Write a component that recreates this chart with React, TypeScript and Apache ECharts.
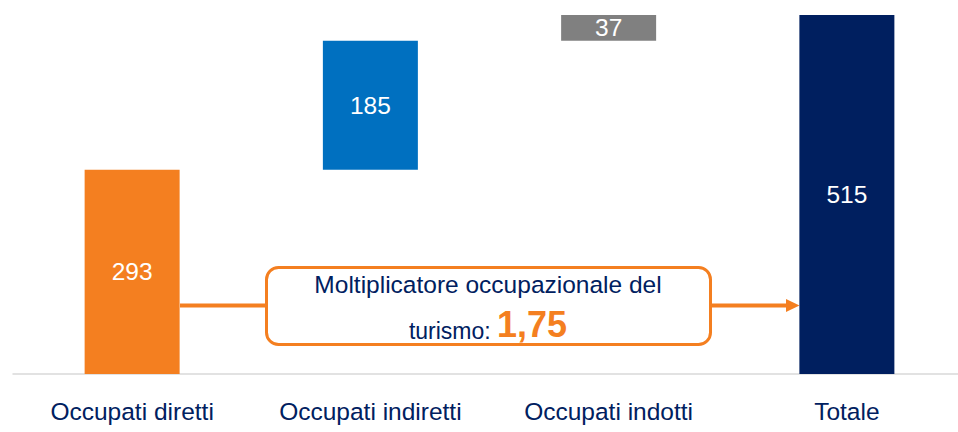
import React, { useEffect, useRef } from "react";
import * as echarts from "echarts";

const categories = ["Occupati diretti", "Occupati indiretti", "Occupati indotti", "Totale"];
const values = [293, 185, 37, 515];
const barColors = ["#F47F20", "#0070C0", "#808080", "#001F5F"];
const multiplierLabel = "Moltiplicatore occupazionale del";
const multiplierPrefix = "turismo: ";
const multiplierValue = "1,75";

const FONT = "'Liberation Sans', Arial, sans-serif";

export default function App() {
  const ref = useRef<HTMLDivElement>(null);
  useEffect(() => {
    if (!ref.current) return;
    const chart = echarts.init(ref.current, undefined, { renderer: "svg" });
    // waterfall offsets: each intermediate bar starts where the previous ends; total starts at 0
    const bases: number[] = [];
    let acc = 0;
    values.forEach((v, i) => {
      if (i === values.length - 1) bases.push(0);
      else {
        bases.push(acc);
        acc += v;
      }
    });
    const orange = "#F47F20";
    chart.setOption({
      animation: false,
      grid: { left: 13, top: 15, width: 953, height: 359, outerBoundsMode: "none", containLabel: false },
      xAxis: {
        type: "category",
        data: categories,
        axisLine: { show: true, lineStyle: { color: "#D9D9D9", width: 1.5 } },
        axisTick: { show: false },
        axisLabel: { interval: 0, color: "#002060", fontSize: 24.5, fontFamily: FONT, margin: 25 },
      },
      yAxis: { type: "value", min: 0, max: 515, show: false, splitLine: { show: false } },
      series: [
        {
          type: "bar",
          stack: "w",
          barWidth: 95,
          data: bases,
          itemStyle: { color: "transparent" },
          silent: true,
        },
        {
          type: "bar",
          stack: "w",
          barWidth: 95,
          data: values.map((v, i) => ({ value: v, itemStyle: { color: barColors[i] } })),
          label: {
            show: true,
            position: "inside",
            color: "#FFFFFF",
            fontSize: 24.5,
            fontFamily: FONT,
          },
        },
      ],
      graphic: [
        {
          type: "line",
          shape: { x1: 180, y1: 305.5, x2: 267, y2: 305.5 },
          style: { stroke: orange, lineWidth: 4 },
        },
        {
          type: "line",
          shape: { x1: 710, y1: 305.5, x2: 788, y2: 305.5 },
          style: { stroke: orange, lineWidth: 4 },
        },
        {
          type: "polygon",
          shape: { points: [[786, 299], [799.5, 305.5], [786, 312]] },
          style: { fill: orange },
        },
        {
          type: "rect",
          shape: { x: 266.5, y: 267.5, width: 444, height: 77, r: 12 },
          style: { fill: "#FFFFFF", stroke: orange, lineWidth: 3 },
        },
        {
          type: "text",
          x: 488,
          y: 284,
          style: {
            text: multiplierLabel,
            fill: "#002060",
            fontSize: 24.5,
            fontFamily: FONT,
            align: "center",
            verticalAlign: "middle",
          },
        },
        {
          type: "text",
          x: 488,
          y: 342,
          style: {
            text: `{a|${multiplierPrefix}}{b|${multiplierValue}}`,
            align: "center",
            verticalAlign: "bottom",
            rich: {
              a: { fontSize: 23, fontFamily: FONT, fill: "#002060", color: "#002060", verticalAlign: "bottom" },
              b: { fontSize: 36, fontWeight: "bold", fontFamily: FONT, fill: orange, color: orange, verticalAlign: "bottom" },
            },
          },
        },
      ],
    });
    return () => chart.dispose();
  }, []);
  return <div ref={ref} style={{ width: 958, height: 432, position: "absolute", left: 0, top: 0 }} />;
}
